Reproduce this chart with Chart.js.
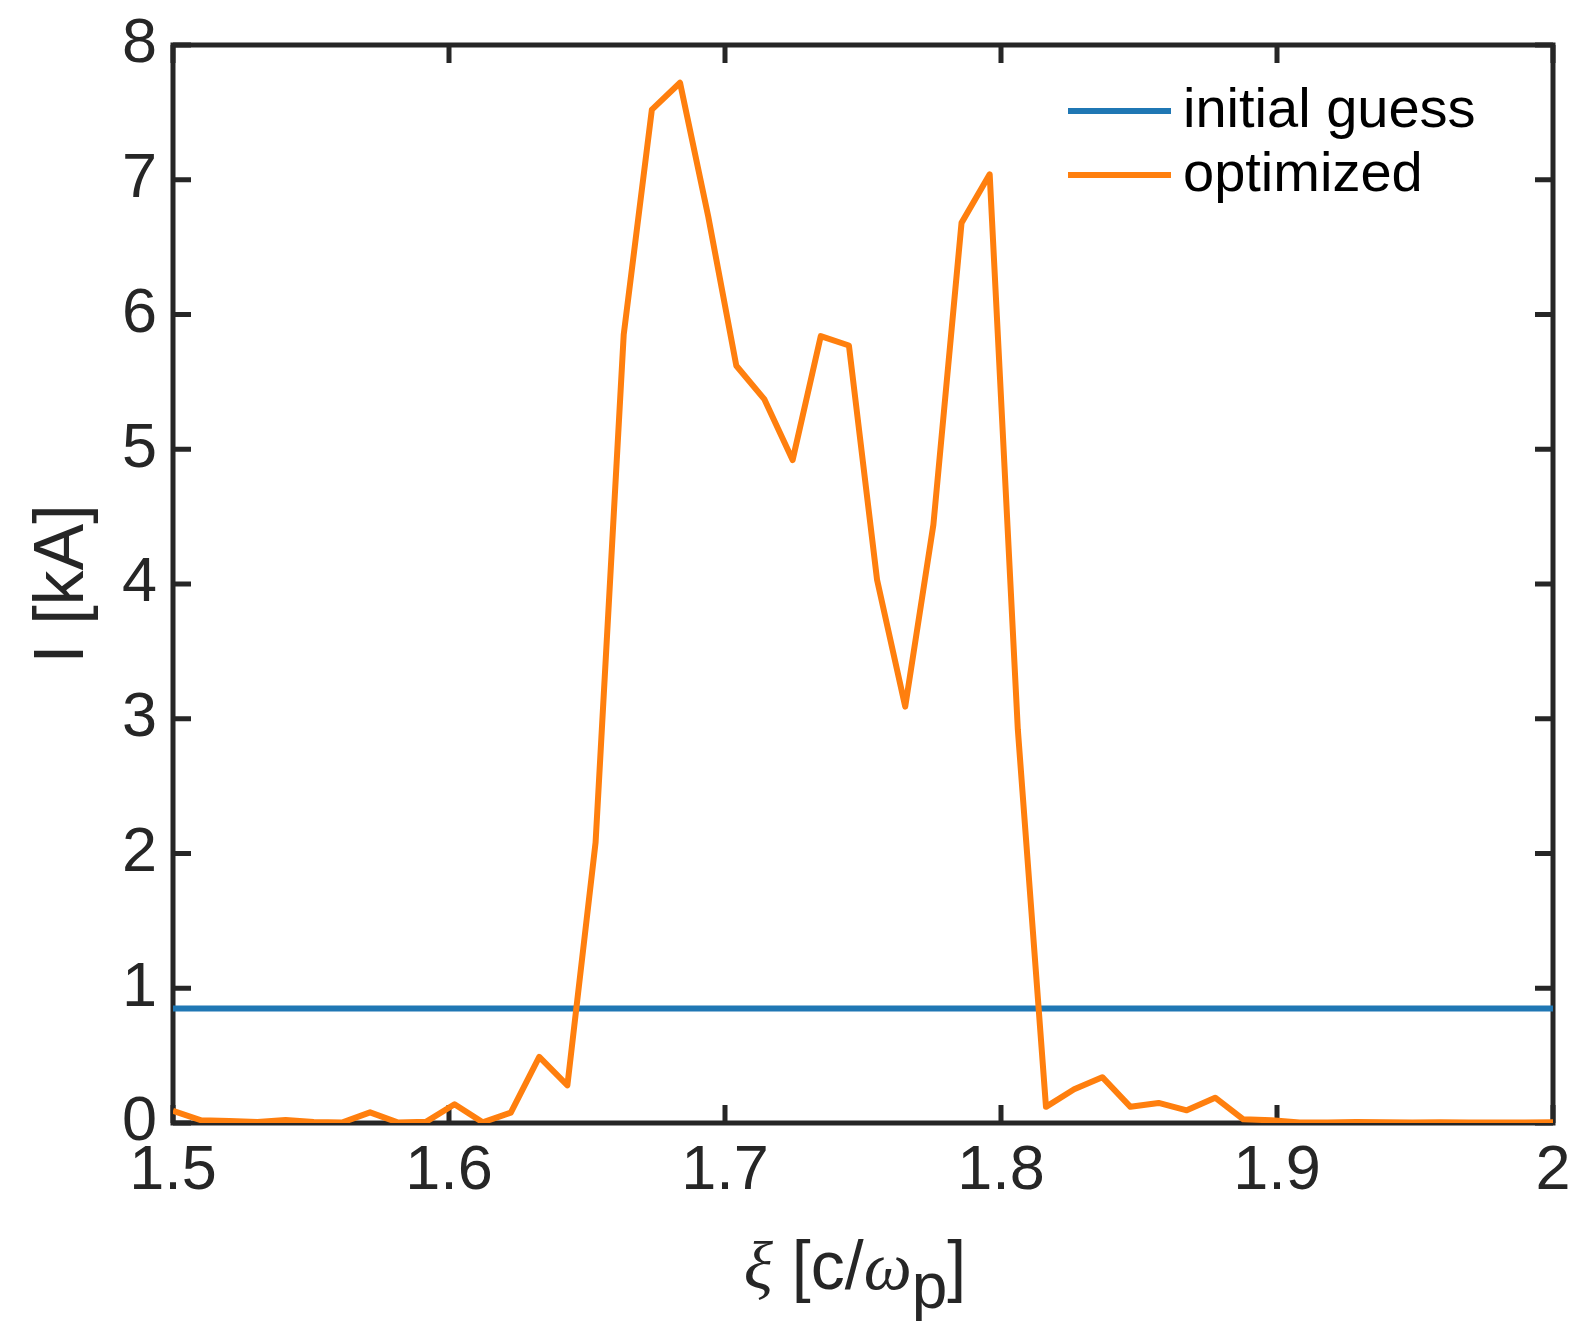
<!DOCTYPE html>
<html>
<head>
<meta charset="utf-8">
<script src="https://cdn.jsdelivr.net/npm/chart.js@4.4.1/dist/chart.umd.min.js"></script>
<style>
    body { margin: 0; background: #fff; }
    #wrap { width: 1573px; height: 1323px; position: relative; }
</style>
</head>
<body>
<div id="wrap"><canvas id="chartArea"></canvas></div>
<script>
// xi sample positions [c/omega_p]
var xi = [1.5, 1.5102, 1.5204, 1.5306, 1.5408, 1.5510, 1.5612, 1.5714, 1.5816, 1.5918,
    1.6020, 1.6122, 1.6224, 1.6327, 1.6429, 1.6531, 1.6633, 1.6735, 1.6837, 1.6939,
    1.7041, 1.7143, 1.7245, 1.7347, 1.7449, 1.7551, 1.7653, 1.7755, 1.7857, 1.7959,
    1.8061, 1.8163, 1.8265, 1.8367, 1.8469, 1.8571, 1.8673, 1.8776, 1.8878, 1.8980,
    1.9082, 1.9184, 1.9286, 1.9388, 1.9490, 1.9592, 1.9694, 1.9796, 1.9898, 2.0];

// current [kA]
var optimized = [0.09, 0.02, 0.015, 0.007, 0.022, 0.007, 0.003, 0.079, 0.003, 0.01,
    0.139, 0.005, 0.077, 0.49, 0.28, 2.08, 5.85, 7.52, 7.72, 6.73,
    5.62, 5.37, 4.92, 5.84, 5.77, 4.03, 3.09, 4.44, 6.68, 7.04,
    2.92, 0.12, 0.25, 0.34, 0.12, 0.149, 0.094, 0.188, 0.027, 0.02,
    0.003, 0.003, 0.007, 0.005, 0.003, 0.005, 0.003, 0.003, 0.003, 0.005];

var guessX = [1.5, 2.0];
var guessY = [0.85, 0.85];

var xTicks = [1.5, 1.6, 1.7, 1.8, 1.9, 2.0];
var xTickLabels = ['1.5', '1.6', '1.7', '1.8', '1.9', '2'];
var yTicks = [0, 1, 2, 3, 4, 5, 6, 7, 8];
var yTickLabels = ['0', '1', '2', '3', '4', '5', '6', '7', '8'];

var seriesNames = ['initial guess', 'optimized'];
var seriesColors = ['#1f77b4', '#ff7f0e'];

var axisColor = '#262626';
var sans = '"Liberation Sans", Arial, Helvetica, sans-serif';
var serif = '"Liberation Serif", "DejaVu Serif", serif';

function toPoints(xs, ys) {
    var pts = [];
    for (var i = 0; i < xs.length; i++) {
        pts.push({x: xs[i], y: ys[i]});
    }
    return pts;
}

// MATLAB style box: frame with inward ticks on all four sides
var boxPlugin = {
    id: 'box',
    beforeDatasetsDraw: function (chart) {
        var ctx = chart.ctx;
        var a = chart.chartArea;
        var sx = chart.scales.x, sy = chart.scales.y;
        var len = 18;
        ctx.save();
        ctx.strokeStyle = axisColor;
        ctx.lineWidth = 5;
        ctx.beginPath();
        xTicks.forEach(function (v) {
            var px = sx.getPixelForValue(v);
            ctx.moveTo(px, a.bottom); ctx.lineTo(px, a.bottom - len);
            ctx.moveTo(px, a.top); ctx.lineTo(px, a.top + len);
        });
        yTicks.forEach(function (v) {
            var py = sy.getPixelForValue(v);
            ctx.moveTo(a.left, py); ctx.lineTo(a.left + len, py);
            ctx.moveTo(a.right, py); ctx.lineTo(a.right - len, py);
        });
        ctx.stroke();
        ctx.strokeRect(a.left, a.top, a.right - a.left, a.bottom - a.top);
        ctx.restore();
    },
    afterDraw: function (chart) {
        var ctx = chart.ctx;
        var a = chart.chartArea;
        ctx.save();

        // legend, top right inside the axes
        ctx.font = '56px ' + sans;
        ctx.textBaseline = 'alphabetic';
        ctx.textAlign = 'left';
        for (var i = 0; i < seriesNames.length; i++) {
            var base = 127 + i * 64;
            ctx.strokeStyle = seriesColors[i];
            ctx.lineWidth = 6;
            ctx.beginPath();
            ctx.moveTo(1068, base - 16);
            ctx.lineTo(1171, base - 16);
            ctx.stroke();
            ctx.fillStyle = '#000';
            ctx.fillText(seriesNames[i], 1183, base);
        }

        // x axis label: xi [c/omega_p]
        var parts = [
            {t: '\u03BE', f: 'italic 68px ' + serif, dy: 0},
            {t: ' [c/', f: '68px ' + sans, dy: 0},
            {t: '\u03C9', f: 'italic 68px ' + serif, dy: 0},
            {t: 'p', f: '64px ' + sans, dy: 19},
            {t: ']', f: '68px ' + sans, dy: 0}
        ];
        var total = 0;
        parts.forEach(function (p) {
            ctx.font = p.f;
            p.w = ctx.measureText(p.t).width;
            total += p.w;
        });
        var cx = (a.left + a.right) / 2 - 8;
        var x = cx - total / 2;
        ctx.fillStyle = axisColor;
        parts.forEach(function (p) {
            ctx.font = p.f;
            ctx.fillText(p.t, x, 1289 + p.dy);
            x += p.w;
        });
        ctx.restore();
    }
};

var ctx = document.getElementById('chartArea').getContext('2d');
var myChart = new Chart(ctx, {
    type: 'line',
    data: {
        datasets: [
            {
                label: seriesNames[0],
                data: toPoints(guessX, guessY),
                borderColor: seriesColors[0],
                borderWidth: 6,
                pointRadius: 0,
                order: 1
            },
            {
                label: seriesNames[1],
                data: toPoints(xi, optimized),
                borderColor: seriesColors[1],
                borderWidth: 6,
                borderJoinStyle: 'round',
                pointRadius: 0,
                order: 0
            }
        ]
    },
    options: {
        responsive: true,
        maintainAspectRatio: false,
        animation: false,
        layout: {padding: {top: 45, right: 20, left: 0, bottom: 0}},
        plugins: {
            legend: {display: false},
            tooltip: {enabled: false}
        },
        scales: {
            x: {
                type: 'linear',
                min: 1.5,
                max: 2,
                grid: {display: false, drawTicks: false},
                border: {display: false},
                afterBuildTicks: function (scale) {
                    scale.ticks = xTicks.map(function (v) { return {value: v}; });
                },
                afterFit: function (scale) {
                    scale.height = 200;
                    scale.paddingLeft = 0;
                    scale.paddingRight = 0;
                },
                ticks: {
                    autoSkip: false,
                    maxRotation: 0,
                    padding: 11,
                    color: axisColor,
                    font: {family: sans, size: 63},
                    callback: function (v, i) { return xTickLabels[i]; }
                }
            },
            y: {
                type: 'linear',
                min: 0,
                max: 8,
                grid: {display: false, drawTicks: false},
                border: {display: false},
                afterBuildTicks: function (scale) {
                    scale.ticks = yTicks.map(function (v) { return {value: v}; });
                },
                afterFit: function (scale) {
                    scale.width = 173;
                    scale.paddingTop = 0;
                    scale.paddingBottom = 0;
                },
                ticks: {
                    autoSkip: false,
                    padding: 16,
                    color: axisColor,
                    font: {family: sans, size: 63},
                    callback: function (v, i) { return yTickLabels[i]; }
                },
                title: {
                    display: true,
                    text: 'I [kA]',
                    color: axisColor,
                    font: {family: sans, size: 70},
                    padding: {top: 22, bottom: 0}
                }
            }
        }
    },
    plugins: [boxPlugin]
});
</script>
</body>
</html>
